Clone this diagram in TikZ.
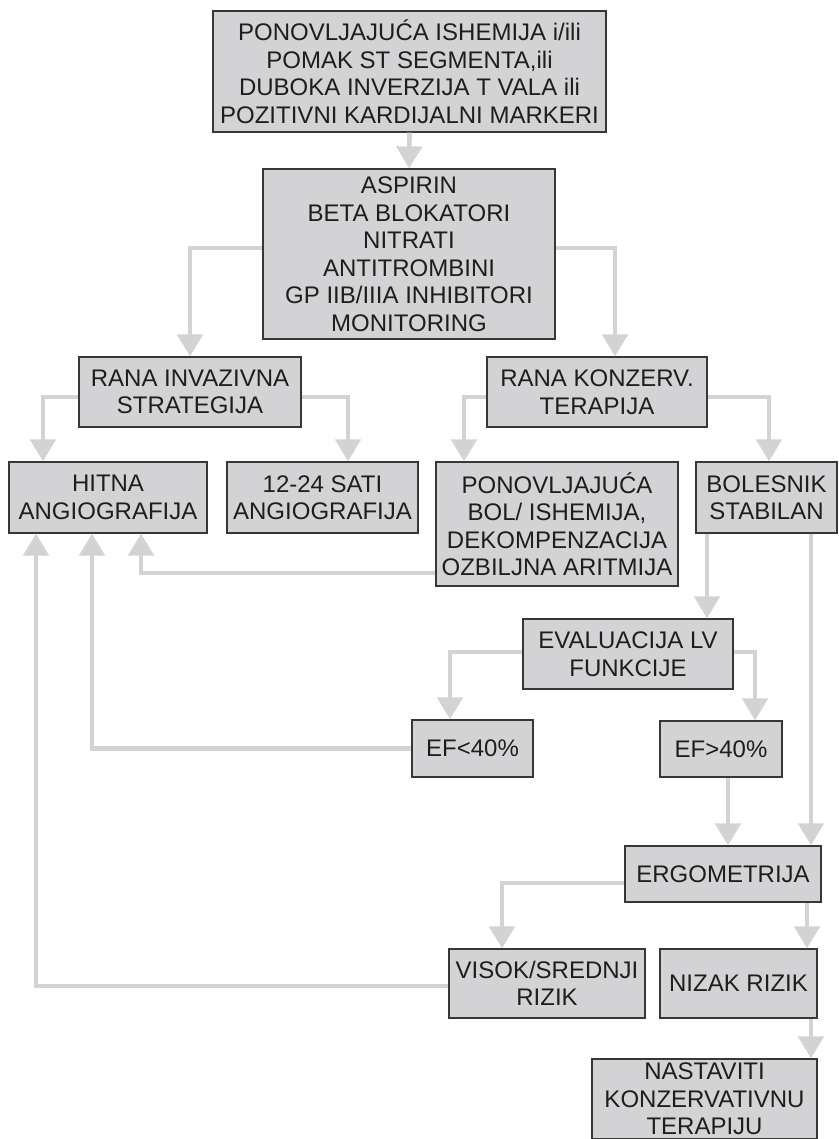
\documentclass[tikz,border=0pt]{standalone}
\usepackage{fontspec}
\setmainfont{Liberation Sans}
\usetikzlibrary{arrows.meta}
\definecolor{boxfill}{RGB}{211,211,213}
\definecolor{boxline}{RGB}{55,55,55}
\definecolor{flow}{RGB}{210,211,213}
\definecolor{ink}{RGB}{30,30,30}
\begin{document}
\begin{tikzpicture}[x=1pt,y=-1pt,
  stage/.style={draw=boxline, fill=boxfill, line width=1.2pt, inner sep=0pt,
    align=center, text=ink, font=\fontsize{24}{27.5}\selectfont},
  flowarrow/.style={draw=flow, line width=4.7pt,
    -{Triangle[width=25pt,length=22pt]}},
]
\useasboundingbox (0,0) rectangle (838,1139);
\clip (0,0) rectangle (838,1139);

% boxes
\node[stage, minimum width=393pt, minimum height=121pt] (b1) at (409.5,71.5)
  {PONOVLJAJUĆA ISHEMIJA i/ili\\POMAK ST SEGMENTA,ili\\DUBOKA INVERZIJA T VALA ili\\POZITIVNI KARDIJALNI MARKERI};
\node[stage, minimum width=292pt, minimum height=170pt] (b2) at (409,254)
  {ASPIRIN\\BETA BLOKATORI\\NITRATI\\ANTITROMBINI\\GP IIB/IIIA INHIBITORI\\MONITORING};
\node[stage, minimum width=222pt, minimum height=70pt] (rinv) at (190,392)
  {RANA INVAZIVNA\\STRATEGIJA};
\node[stage, minimum width=220pt, minimum height=70pt] (rkon) at (597,392)
  {RANA KONZERV.\\TERAPIJA};
\node[stage, minimum width=198pt, minimum height=71pt] (hitna) at (108,497.5)
  {HITNA\\ANGIOGRAFIJA};
\node[stage, minimum width=191pt, minimum height=71pt] (sati) at (322.5,497.5)
  {12-24 SATI\\ANGIOGRAFIJA};
\node[stage, minimum width=242pt, minimum height=124pt] (pon) at (557,524)
  {PONOVLJAJUĆA\\BOL/ ISHEMIJA,\\DEKOMPENZACIJA\\OZBILJNA ARITMIJA};
\node[stage, minimum width=141pt, minimum height=71pt] (bol) at (766.5,497.5)
  {BOLESNIK\\STABILAN};
\node[stage, minimum width=210pt, minimum height=70pt] (eval) at (628,654)
  {EVALUACIJA LV\\FUNKCIJE};
\node[stage, minimum width=121pt, minimum height=57pt] (efl) at (472.5,748.5)
  {EF<40\%};
\node[stage, minimum width=122pt, minimum height=56pt] (efg) at (721,749)
  {EF>40\%};
\node[stage, minimum width=196pt, minimum height=56pt] (ergo) at (723,874)
  {ERGOMETRIJA};
\node[stage, minimum width=196pt, minimum height=69pt] (vis) at (547,983.5)
  {VISOK/SREDNJI\\RIZIK};
\node[stage, minimum width=157pt, minimum height=69pt] (niz) at (738.5,983.5)
  {NIZAK RIZIK};
\node[stage, minimum width=225pt, minimum height=80pt] (nast) at (704.5,1099)
  {NASTAVITI\\KONZERVATIVNU\\TERAPIJU};

% connectors
\draw[flowarrow] (b1.south) -- (b2.north);
\draw[flowarrow] (b2.west |- 0,248) -| (rinv.north);
\draw[flowarrow] (b2.east |- 0,248) -| (rkon.north -| 615,0);
\draw[flowarrow] (rinv.west |- 0,397) -| (hitna.north -| 43,0);
\draw[flowarrow] (rinv.east |- 0,397) -| (sati.north -| 348,0);
\draw[flowarrow] (rkon.west |- 0,397) -| (pon.north -| 464,0);
\draw[flowarrow] (rkon.east |- 0,397) -| (bol.north -| 769,0);
\draw[flowarrow] (bol.south -| 707,0) -- (eval.north -| 707,0);
\draw[flowarrow] (bol.south -| 811,0) -- (ergo.north -| 811,0);
\draw[flowarrow] (eval.west |- 0,652) -| (efl.north -| 450,0);
\draw[flowarrow] (eval.east |- 0,652) -| (efg.north -| 755,0);
\draw[flowarrow] (efg.south -| 728,0) -- (ergo.north -| 728,0);
\draw[flowarrow] (ergo.west |- 0,883) -| (vis.north -| 502,0);
\draw[flowarrow] (ergo.south -| 807,0) -- (niz.north -| 807,0);
\draw[flowarrow] (niz.south -| 811,0) -- (nast.north -| 811,0);
\draw[flowarrow] (pon.west |- 0,573) -| (hitna.south -| 141,0);
\draw[flowarrow] (efl.west) -| (hitna.south -| 92,0);
\draw[flowarrow] (vis.west |- 0,986) -| (hitna.south -| 36,0);
\end{tikzpicture}
\end{document}
